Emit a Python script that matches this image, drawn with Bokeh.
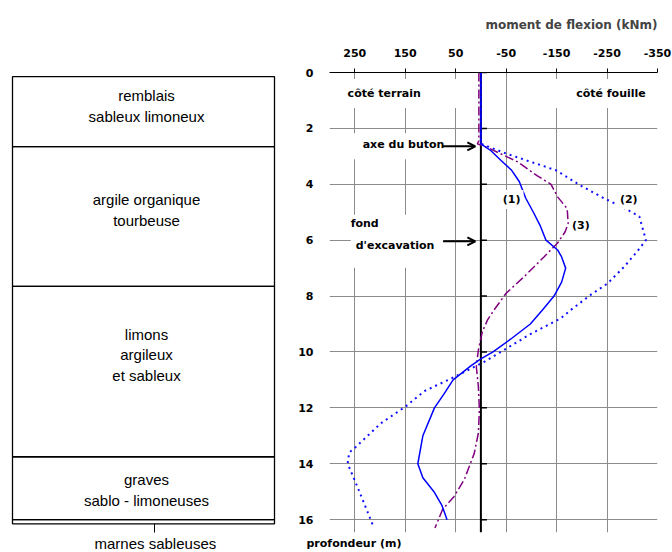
from bokeh.plotting import figure
from bokeh.models import Range1d, FixedTicker, Label, Arrow, OpenHead, Span, Title
from bokeh.layouts import row
from bokeh.embed import file_html
from bokeh.resources import INLINE
from bokeh.core.properties import value

# ---------------- data ----------------
x_ticks = [250, 150, 50, -50, -150, -250, -350]
y_ticks = [0, 2, 4, 6, 8, 10, 12, 14, 16]

# curve (1) solid blue
depth_1 = [0, 2.55, 2.8, 3.15, 3.5, 3.9, 4.5, 5.0, 5.5, 6.0, 6.35, 6.6, 7.0, 7.5, 8.0,
           8.5, 9.0, 9.5, 10.0, 10.25, 10.5, 11.0, 11.5, 12.0, 13.0, 14.0, 14.5, 15.0, 15.5, 16.0]
moment_1 = [0, 0, -20, -40, -61, -76, -89, -104, -118, -129, -152, -160, -168, -160, -145,
            -122, -98, -62, -24, 0, 20, 55, 73, 92, 115, 125, 115, 93, 77, 67]

# curve (2) dotted blue
depth_2 = [0, 2.55, 2.9, 3.5, 4.05, 4.5, 4.85, 5.15, 6.0, 6.4, 6.95, 7.55, 7.95, 8.5, 8.8,
           9.35, 9.85, 10.35, 10.9, 11.4, 11.95, 12.55, 13.4, 13.6, 14.0, 14.55, 15.3, 16.2]
moment_2 = [0, 0, -50, -149, -198, -244, -284, -314, -327, -310, -284, -251, -218, -178, -158,
            -99, -53, -7, 53, 112, 149, 198, 248, 261, 264, 251, 234, 214]

# curve (3) dash-dot purple
depth_3 = [0, 2.45, 2.55, 2.7, 3.2, 3.7, 4.0, 4.45, 4.87, 5.4, 5.7, 6.1, 6.6, 7.3, 7.9,
           8.5, 8.86, 9.27, 9.93, 10.52, 11.24, 12.07, 12.9, 13.62, 14.57, 15.17, 15.64, 16.3]
moment_3 = [4, 4, 7, -15, -73, -112, -139, -152, -171, -173, -167, -152, -125, -86, -50,
            -26, -13, -3, 5, 9, 5, 3, 5, 13, 33, 53, 76, 91]

curve_names = ["(1)", "(2)", "(3)"]

soil_names = ["remblais\nsableux limoneux", "argile organique\ntourbeuse",
              "limons\nargileux\net sableux", "graves\nsablo - limoneuses"]
soil_top = [0.15, 2.65, 7.65, 13.75]
soil_bottom = [2.65, 7.65, 13.75, 16.0]
soil_label_depth = [1.2, 4.93, 10.1, 14.93]
base_name = "marnes sableuses"
base_top = 16.0
base_bottom = 16.15

strut_depth = 2.64
excavation_depth = 6.04

FONT = "DejaVu Sans"
SOIL_FONT = "Liberation Sans"
GRID = "#8c8c8c"

yr = Range1d(16.46, 0)

# ---------------- left: soil column ----------------
s = figure(width=288, height=552, x_range=Range1d(0, 288), y_range=yr,
           output_backend="svg", toolbar_location=None,
           x_axis_type=None, y_axis_type=None,
           min_border_left=0, min_border_right=0, min_border_top=72, min_border_bottom=19)
s.outline_line_color = None
s.grid.visible = False

s.quad(left=12, right=274, top=soil_top, bottom=soil_bottom,
       fill_color=None, line_color="black", line_width=1.3)
s.quad(left=12, right=274, top=[base_top], bottom=[base_bottom],
       fill_color=None, line_color="black", line_width=1.3)
s.segment(x0=[154], y0=[base_bottom], x1=[154], y1=[16.5], line_color="black", line_width=1)
s.text(x=[146] * len(soil_names), y=soil_label_depth, text=soil_names,
       text_align="center", text_baseline="middle", text_font=value(SOIL_FONT),
       text_font_size="15px", text_line_height=1.22, text_color="black")
s.add_layout(Title(text=base_name, align="left", offset=94, standoff=1,
                   text_font=SOIL_FONT, text_font_size="15px",
                   text_font_style="normal", text_color="black"), "below")

# ---------------- right: bending moment ----------------
p = figure(width=384, height=552, x_range=Range1d(300, -350), y_range=yr,
           x_axis_location="above", output_backend="svg", toolbar_location=None,
           title="moment de flexion (kNm)",
           min_border_left=41, min_border_right=15, min_border_top=72, min_border_bottom=19)
p.outline_line_color = None
p.title.align = "right"
p.title.text_font = FONT
p.title.text_font_size = "12px"
p.title.text_font_style = "bold"
p.title.standoff = 28

xt = FixedTicker(ticks=x_ticks)
yt = FixedTicker(ticks=y_ticks)
p.xaxis.ticker = xt
p.yaxis.ticker = yt
p.xgrid.ticker = xt
p.ygrid.ticker = yt
p.xaxis.major_label_overrides = {t: str(t) for t in x_ticks}
p.yaxis.major_label_overrides = {t: str(t) for t in y_ticks}
for ax in (p.xaxis, p.yaxis):
    ax.major_label_text_font = FONT
    ax.major_label_text_font_size = "11px"
    ax.major_label_text_font_style = "bold"
    ax.major_label_text_color = "black"
    ax.minor_tick_out = 0
    ax.minor_tick_in = 0
p.xaxis.axis_line_color = "black"
p.xaxis.major_tick_line_color = "black"
p.xaxis.major_tick_out = 4
p.xaxis.major_tick_in = 0
p.xaxis.major_label_standoff = 12
p.yaxis.axis_line_color = None
p.yaxis.major_tick_line_color = None
p.yaxis.major_label_standoff = 10
p.grid.grid_line_color = GRID
p.grid.grid_line_width = 1

p.add_layout(Span(location=0, dimension="height", line_color="black", line_width=2,
                  level="underlay"))
p.segment(x0=[0] * len(y_ticks), y0=y_ticks, x1=[-12] * len(y_ticks), y1=y_ticks,
          line_color="black", line_width=1.5)

p.line(moment_2, depth_2, line_color="#1010ff", line_width=2, line_dash="2 4")
p.line(moment_3, depth_3, line_color="#800080", line_width=1.5, line_dash="9 3 2 3")
p.line(moment_1, depth_1, line_color="#0000ff", line_width=1.5)


def lab(x, y, text, align="left", pad=None):
    kw = dict(x=x, y=y, text=text, text_align=align, text_baseline="middle",
              text_font=FONT, text_font_size="11px", text_font_style="bold",
              text_color="black")
    if pad is not None:
        kw["background_fill_color"] = "white"
        kw["padding"] = pad
    p.add_layout(Label(**kw))


lab(276, 0.75, "côté terrain", "left", dict(left=6, right=42, top=8, bottom=8))
lab(-232, 0.75, "côté fouille", "center", dict(left=40, right=14, top=8, bottom=8))
lab(258, strut_depth, "axe du buton", "left", dict(left=12, right=10, top=5, bottom=8))
lab(258, excavation_depth, "d'excavation", "left", dict(left=5, right=10, top=24, bottom=16))
lab(258, 5.39, "fond", "left")
lab(-61, 4.54, curve_names[0], "center", dict(left=3, right=3, top=3, bottom=3))
lab(-293, 4.54, curve_names[1], "center", dict(left=3, right=3, top=3, bottom=3))
lab(-198, 5.46, curve_names[2], "center", dict(left=3, right=3, top=3, bottom=3))

for yy in (strut_depth, excavation_depth):
    p.add_layout(Arrow(end=OpenHead(size=8, line_width=2, line_color="black"),
                       x_start=75, y_start=yy, x_end=11, y_end=yy,
                       line_width=2, line_color="black"))

p.add_layout(Title(text="profondeur (m)", align="left", offset=-23, standoff=5,
                   text_font=FONT, text_font_size="11px", text_font_style="bold",
                   text_color="black"), "below")

layout = row(s, p)
open("out.html", "w").write(file_html(layout, INLINE))
